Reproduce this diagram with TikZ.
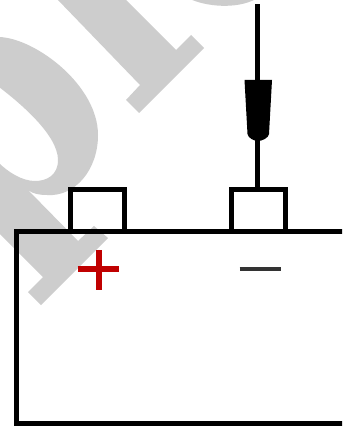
\documentclass[tikz,border=0pt]{standalone}
\definecolor{wm}{HTML}{CDCDCD}
\definecolor{plusred}{HTML}{C00000}
\definecolor{minusgrey}{HTML}{333333}
\tikzset{
  mark shape/.style={fill=wm,draw=none},
  outline/.style={draw=black,line width=5.2pt,line join=miter,line cap=butt},
  sign/.style={line width=#1,line cap=butt}
}
\begin{document}
\begin{tikzpicture}[x=1pt,y=-1pt]
\useasboundingbox (0,0) rectangle (342,427);
\clip (0,0) rectangle (342,427);
\fill[white] (0,0) rectangle (342,427);
% watermark
\fill[mark shape] (57,-1) -- (140,85) -- (126,100) -- (139,113) -- (204,48) -- (191,35) -- (176,50) -- (125,-1) -- cycle;
\fill[mark shape] (190,-1) .. controls (205,6) and (235,10) .. (256,-1) -- cycle;
\fill[mark shape, even odd rule]
  (-1,37) .. controls (35,38) and (98,85) .. (98,135)
  .. controls (98,170) and (75,197) .. (47,195)
  .. controls (40,195) and (33,194) .. (28,190)
  -- (78,241) -- (94,226) -- (108,238) -- (41,305) -- (28,292) -- (43,277)
  -- (-1,233) -- cycle
  (-1,87) .. controls (20,103) and (58,135) .. (58,160)
  .. controls (58,175) and (47,181) .. (35,181)
  .. controls (22,181) and (8,172) .. (-1,163) -- cycle;
% battery
\draw[outline] (345,231.7) -- (16.5,231.7) -- (16.5,423.5) -- (345,423.5);
\draw[outline] (70.5,231.7) -- (70.5,189.5) -- (124.5,189.5) -- (124.5,231.7);
\draw[outline] (231.5,231.7) -- (231.5,189.5) -- (285.5,189.5) -- (285.5,231.7);
% lead and plug
\draw[black,line width=5.5pt] (257.5,4.5) -- (257.5,189.5);
\fill[black] (244.5,80) -- (272,80) -- (269,134) .. controls (268.5,138) and (262,141) .. (258,141)
  .. controls (254,141) and (248,138) .. (247.5,134) -- cycle;
% signs
\draw[plusred,sign=6pt] (77.5,269) -- (118.7,269);
\draw[plusred,sign=6pt] (98.5,250) -- (98.5,290);
\draw[minusgrey,sign=3.5pt] (239.5,269.2) -- (280.5,269.2);
\end{tikzpicture}
\end{document}
